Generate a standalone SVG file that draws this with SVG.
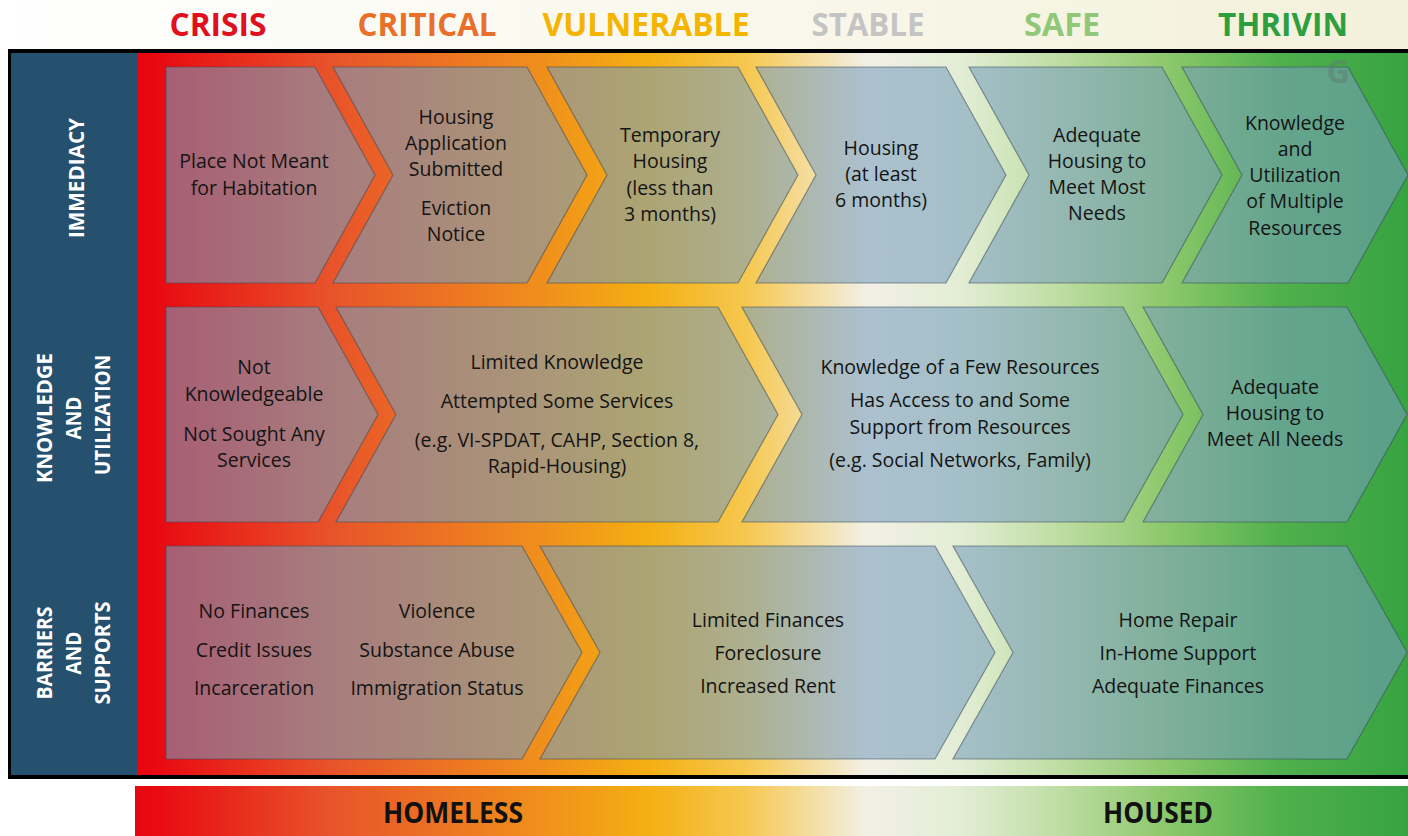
<svg xmlns="http://www.w3.org/2000/svg" width="1408" height="836" viewBox="0 0 1408 836">
<defs>
<linearGradient id="hdr" x1="0" y1="0" x2="1408" y2="0" gradientUnits="userSpaceOnUse">
<stop offset="0" stop-color="#FFFFFF"/>
<stop offset="1" stop-color="#F3F1DA"/>
</linearGradient>
<linearGradient id="bg" x1="137" y1="0" x2="1408" y2="0" gradientUnits="userSpaceOnUse">
<stop offset="0" stop-color="#E8060E"/>
<stop offset="0.02" stop-color="#E80C12"/>
<stop offset="0.15" stop-color="#E8522A"/>
<stop offset="0.32" stop-color="#F0901C"/>
<stop offset="0.40" stop-color="#F4AE12"/>
<stop offset="0.48" stop-color="#F6C850"/>
<stop offset="0.575" stop-color="#F2F0E6"/>
<stop offset="0.65" stop-color="#E2EDD4"/>
<stop offset="0.73" stop-color="#BCDCA0"/>
<stop offset="0.81" stop-color="#8CC86C"/>
<stop offset="0.90" stop-color="#50B04C"/>
<stop offset="1" stop-color="#36A341"/>
</linearGradient>
<linearGradient id="bar" x1="135" y1="0" x2="1408" y2="0" gradientUnits="userSpaceOnUse">
<stop offset="0" stop-color="#E8060E"/>
<stop offset="0.02" stop-color="#E80C12"/>
<stop offset="0.15" stop-color="#E8522A"/>
<stop offset="0.32" stop-color="#F0901C"/>
<stop offset="0.40" stop-color="#F4AE12"/>
<stop offset="0.48" stop-color="#F6C850"/>
<stop offset="0.575" stop-color="#F2F0E6"/>
<stop offset="0.65" stop-color="#E2EDD4"/>
<stop offset="0.73" stop-color="#BCDCA0"/>
<stop offset="0.81" stop-color="#8CC86C"/>
<stop offset="0.90" stop-color="#50B04C"/>
<stop offset="1" stop-color="#36A341"/>
</linearGradient>
<style>
.chev{fill:rgb(117,156,190);fill-opacity:0.57;stroke:rgb(60,75,90);stroke-opacity:0.55;stroke-width:1.2}
.t{font-family:"Open Sans","Noto Sans","Liberation Sans",sans-serif;font-size:19.5px;fill:#141414;text-anchor:middle}
.h{font-family:"Open Sans","Noto Sans","Liberation Sans",sans-serif;font-weight:bold;font-size:32px;text-anchor:middle}
.lbl{font-family:"Open Sans","Noto Sans","Liberation Sans",sans-serif;font-weight:bold;font-size:21px;fill:#FFFFFF;text-anchor:middle}
.bt{font-family:"Open Sans","Noto Sans","Liberation Sans",sans-serif;font-weight:bold;font-size:29px;fill:#111111;text-anchor:middle}
</style>
</defs>

<!-- header -->
<rect x="0" y="0" width="1408" height="50" fill="url(#hdr)"/>
<g id="header">
<text class="h" x="218" y="36" fill="#E0101E" textLength="97" lengthAdjust="spacingAndGlyphs">CRISIS</text>
<text class="h" x="427" y="36" fill="#E8702A" textLength="139" lengthAdjust="spacingAndGlyphs">CRITICAL</text>
<text class="h" x="646" y="36" fill="#F4B400" textLength="207" lengthAdjust="spacingAndGlyphs">VULNERABLE</text>
<text class="h" x="868" y="36" fill="#C4C4C4" textLength="113" lengthAdjust="spacingAndGlyphs">STABLE</text>
<text class="h" x="1062" y="36" fill="#90C878" textLength="76" lengthAdjust="spacingAndGlyphs">SAFE</text>
<text class="h" x="1283" y="36" fill="#2E9E3E" textLength="130" lengthAdjust="spacingAndGlyphs">THRIVIN</text>
</g>

<!-- frame -->
<rect x="8" y="49" width="1402" height="730" fill="#000000"/>
<rect x="11" y="53" width="126" height="722" fill="#25506E"/>
<rect x="137" y="53" width="1271" height="722" fill="url(#bg)"/>

<!-- row labels -->
<g id="label-immediacy">
<text class="lbl" transform="translate(84,178) rotate(-90)" textLength="120" lengthAdjust="spacingAndGlyphs">IMMEDIACY</text>
</g>
<g id="label-knowledge">
<text class="lbl" transform="translate(52,418) rotate(-90)" textLength="130" lengthAdjust="spacingAndGlyphs">KNOWLEDGE</text>
<text class="lbl" transform="translate(81,418) rotate(-90)" textLength="43" lengthAdjust="spacingAndGlyphs">AND</text>
<text class="lbl" transform="translate(110,415) rotate(-90)" textLength="120" lengthAdjust="spacingAndGlyphs">UTILIZATION</text>
</g>
<g id="label-barriers">
<text class="lbl" transform="translate(52,653) rotate(-90)" textLength="93" lengthAdjust="spacingAndGlyphs">BARRIERS</text>
<text class="lbl" transform="translate(81,653) rotate(-90)" textLength="43" lengthAdjust="spacingAndGlyphs">AND</text>
<text class="lbl" transform="translate(110,653) rotate(-90)" textLength="103" lengthAdjust="spacingAndGlyphs">SUPPORTS</text>
</g>

<!-- Row 1: Immediacy -->
<g id="r1c1">
<path class="chev" d="M166,67 H315 L375,175 L315,283 H166 Z"/>
<text class="t" x="254" y="168">Place Not Meant</text>
<text class="t" x="254" y="195">for Habitation</text>
</g>
<g id="r1c2">
<path class="chev" d="M333,67 H527 L587,175 L527,283 H333 L393,175 Z"/>
<text class="t" x="456" y="124">Housing</text>
<text class="t" x="456" y="150">Application</text>
<text class="t" x="456" y="176">Submitted</text>
<text class="t" x="456" y="215">Eviction</text>
<text class="t" x="456" y="241">Notice</text>
</g>
<g id="r1c3">
<path class="chev" d="M547,67 H738 L798,175 L738,283 H547 L607,175 Z"/>
<text class="t" x="670" y="142">Temporary</text>
<text class="t" x="670" y="168">Housing</text>
<text class="t" x="670" y="195">(less than</text>
<text class="t" x="670" y="221">3 months)</text>
</g>
<g id="r1c4">
<path class="chev" d="M756,67 H946 L1006,175 L946,283 H756 L816,175 Z"/>
<text class="t" x="881" y="155">Housing</text>
<text class="t" x="881" y="181">(at least</text>
<text class="t" x="881" y="207">6 months)</text>
</g>
<g id="r1c5">
<path class="chev" d="M969,67 H1162 L1222,175 L1162,283 H969 L1029,175 Z"/>
<text class="t" x="1097" y="142">Adequate</text>
<text class="t" x="1097" y="168">Housing to</text>
<text class="t" x="1097" y="194">Meet Most</text>
<text class="t" x="1097" y="220">Needs</text>
</g>
<g id="r1c6">
<path class="chev" d="M1182,67 H1348 L1408,175 L1348,283 H1182 L1242,175 Z"/>
<text class="t" x="1295" y="130">Knowledge</text>
<text class="t" x="1295" y="156">and</text>
<text class="t" x="1295" y="182">Utilization</text>
<text class="t" x="1295" y="208">of Multiple</text>
<text class="t" x="1295" y="235">Resources</text>
</g>

<!-- Row 2: Knowledge and Utilization -->
<g id="r2c1">
<path class="chev" d="M166,307 H318 L378,414.5 L318,522 H166 Z"/>
<text class="t" x="254" y="374">Not</text>
<text class="t" x="254" y="401">Knowledgeable</text>
<text class="t" x="254" y="441">Not Sought Any</text>
<text class="t" x="254" y="467">Services</text>
</g>
<g id="r2c2">
<path class="chev" d="M336,307 H718 L778,414.5 L718,522 H336 L396,414.5 Z"/>
<text class="t" x="557" y="369">Limited Knowledge</text>
<text class="t" x="557" y="408">Attempted Some Services</text>
<text class="t" x="557" y="447">(e.g. VI-SPDAT, CAHP, Section 8,</text>
<text class="t" x="557" y="473">Rapid-Housing)</text>
</g>
<g id="r2c3">
<path class="chev" d="M742,307 H1123 L1183,414.5 L1123,522 H742 L802,414.5 Z"/>
<text class="t" x="960" y="374">Knowledge of a Few Resources</text>
<text class="t" x="960" y="407">Has Access to and Some</text>
<text class="t" x="960" y="434">Support from Resources</text>
<text class="t" x="960" y="467">(e.g. Social Networks, Family)</text>
</g>
<g id="r2c4">
<path class="chev" d="M1143,307 H1347 L1407,414.5 L1347,522 H1143 L1203,414.5 Z"/>
<text class="t" x="1275" y="394">Adequate</text>
<text class="t" x="1275" y="420">Housing to</text>
<text class="t" x="1275" y="446">Meet All Needs</text>
</g>

<!-- Row 3: Barriers and Supports -->
<g id="r3c1">
<path class="chev" d="M166,546 H522 L582,652.5 L522,759 H166 Z"/>
<text class="t" x="254" y="618">No Finances</text>
<text class="t" x="254" y="657">Credit Issues</text>
<text class="t" x="254" y="695">Incarceration</text>
<text class="t" x="437" y="618">Violence</text>
<text class="t" x="437" y="657">Substance Abuse</text>
<text class="t" x="437" y="695">Immigration Status</text>
</g>
<g id="r3c2">
<path class="chev" d="M540,546 H935 L995,652.5 L935,759 H540 L600,652.5 Z"/>
<text class="t" x="768" y="627">Limited Finances</text>
<text class="t" x="768" y="660">Foreclosure</text>
<text class="t" x="768" y="693">Increased Rent</text>
</g>
<g id="r3c3">
<path class="chev" d="M953,546 H1347 L1407,652.5 L1347,759 H953 L1013,652.5 Z"/>
<text class="t" x="1178" y="627">Home Repair</text>
<text class="t" x="1178" y="660">In-Home Support</text>
<text class="t" x="1178" y="693">Adequate Finances</text>
</g>

<!-- wrapped G of THRIVING -->
<text class="h" x="1338" y="83" fill="#5E7E70" fill-opacity="0.5">G</text>

<!-- bottom bar -->
<g id="bottom-bar">
<rect x="135" y="786" width="1273" height="50" fill="url(#bar)"/>
<text class="bt" x="453" y="823" textLength="140" lengthAdjust="spacingAndGlyphs">HOMELESS</text>
<text class="bt" x="1158" y="823" textLength="110" lengthAdjust="spacingAndGlyphs">HOUSED</text>
</g>
</svg>
